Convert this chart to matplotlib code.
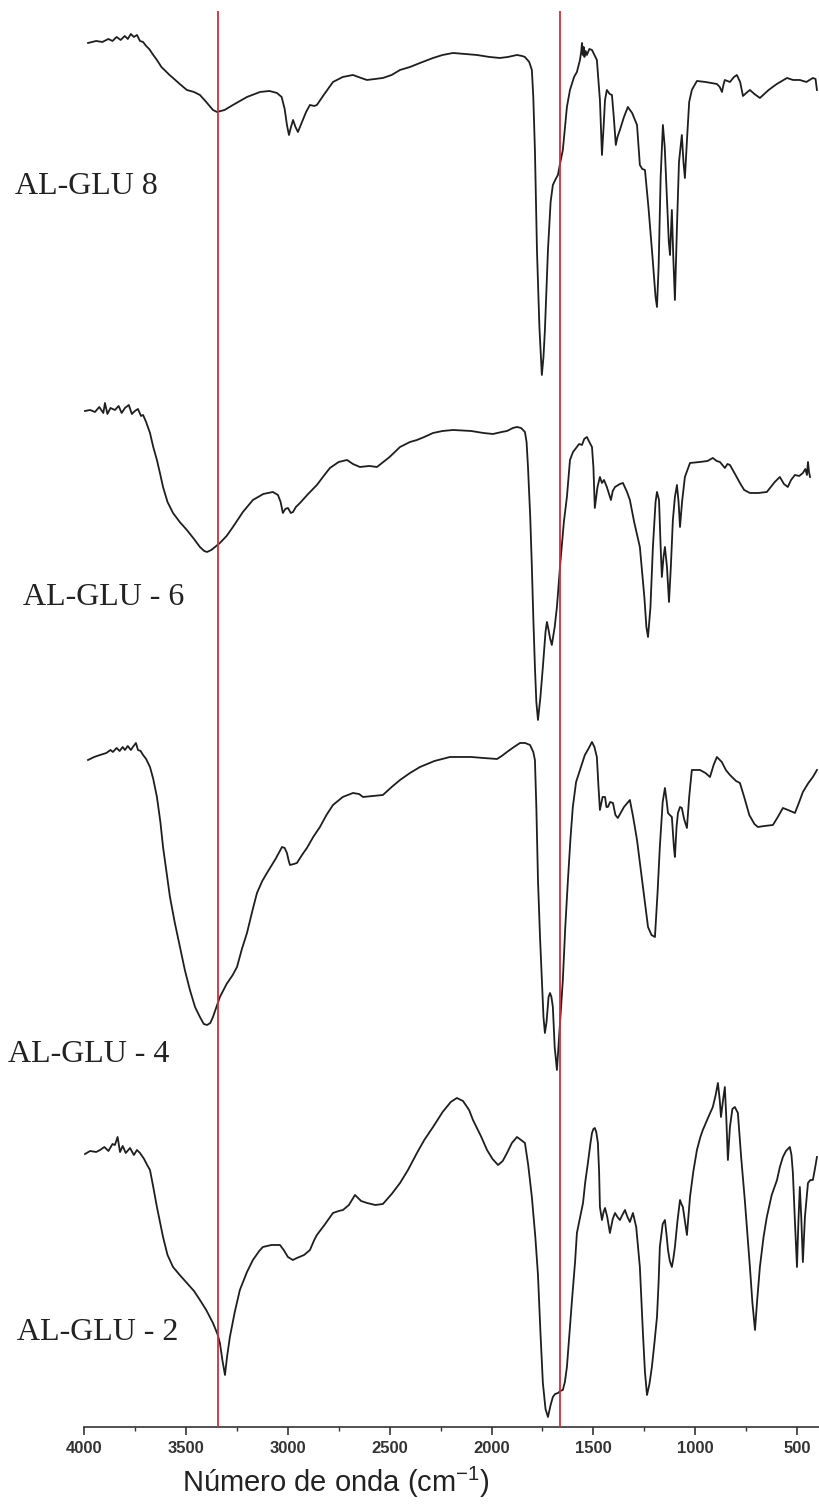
import numpy as np
import matplotlib
matplotlib.use("Agg")
import matplotlib.pyplot as plt
from matplotlib.ticker import MultipleLocator

plt.rcParams['font.family'] = ['Liberation Sans', 'DejaVu Sans']
plt.rcParams['mathtext.default'] = 'regular'

# FTIR spectra as (wavenumber cm-1, stacked transmittance a.u.)
glu8 = [(3980, 1384), (3940, 1386), (3910, 1385), (3880, 1388), (3860, 1386), (3840, 1390),
        (3820, 1387), (3800, 1391), (3785, 1388), (3770, 1393), (3755, 1390), (3740, 1392),
        (3725, 1386), (3710, 1385), (3695, 1381), (3680, 1378), (3660, 1372), (3642, 1367),
        (3620, 1360), (3600, 1356), (3580, 1352), (3563, 1349), (3530, 1343), (3495, 1337),
        (3460, 1335), (3431, 1332), (3400, 1325), (3367, 1317), (3347, 1315), (3310, 1317),
        (3269, 1322), (3200, 1330), (3136, 1335), (3090, 1336), (3053, 1334), (3030, 1330),
        (3015, 1318), (3004, 1302), (2994, 1292), (2984, 1300), (2974, 1307), (2962, 1300),
        (2950, 1295), (2940, 1300), (2930, 1305), (2910, 1315), (2891, 1322), (2870, 1321),
        (2857, 1322), (2820, 1333), (2778, 1345), (2730, 1350), (2680, 1352), (2640, 1349),
        (2611, 1347), (2570, 1348), (2533, 1349), (2490, 1352), (2449, 1357), (2400, 1360),
        (2351, 1364), (2287, 1369), (2240, 1372), (2189, 1374), (2130, 1373), (2072, 1372),
        (2010, 1370), (1959, 1369), (1920, 1370), (1875, 1372), (1850, 1371), (1836, 1370),
        (1815, 1365), (1802, 1357), (1795, 1330), (1787, 1277), (1777, 1177), (1765, 1100),
        (1753, 1052), (1745, 1070), (1738, 1097), (1723, 1177), (1710, 1225), (1699, 1242),
        (1685, 1248), (1674, 1252), (1665, 1262), (1650, 1277), (1630, 1320), (1615, 1337),
        (1595, 1350), (1581, 1355), (1566, 1367), (1560, 1375), (1556, 1384), (1552, 1372),
        (1548, 1380), (1544, 1370), (1538, 1376), (1532, 1372), (1520, 1378), (1507, 1377),
        (1495, 1372), (1483, 1367), (1475, 1345), (1468, 1327), (1458, 1272), (1450, 1300),
        (1443, 1327), (1434, 1337), (1420, 1333), (1409, 1332), (1400, 1310), (1390, 1282),
        (1382, 1290), (1370, 1297), (1350, 1310), (1331, 1320), (1310, 1314), (1286, 1302),
        (1272, 1262), (1260, 1258), (1247, 1257), (1230, 1220), (1210, 1170), (1195, 1130),
        (1188, 1120), (1180, 1160), (1170, 1250), (1159, 1302), (1150, 1280), (1139, 1227),
        (1130, 1185), (1124, 1172), (1115, 1217), (1108, 1170), (1100, 1127), (1090, 1200),
        (1080, 1265), (1066, 1292), (1058, 1265), (1051, 1249), (1040, 1290), (1030, 1325),
        (1017, 1337), (992, 1346), (950, 1345), (894, 1343), (880, 1340), (869, 1335),
        (862, 1342), (855, 1347), (830, 1345), (810, 1350), (796, 1352), (780, 1345),
        (766, 1331), (750, 1334), (732, 1337), (710, 1333), (683, 1329), (640, 1337),
        (600, 1343), (550, 1349), (520, 1347), (487, 1347), (455, 1345), (423, 1349),
        (410, 1348), (403, 1337)]

glu6 = [(3995, 1016), (3970, 1017), (3946, 1015), (3925, 1020), (3905, 1014), (3897, 1024),
        (3885, 1013), (3870, 1019), (3848, 1017), (3830, 1021), (3815, 1014), (3799, 1019),
        (3780, 1022), (3765, 1013), (3750, 1016), (3735, 1018), (3720, 1011), (3710, 1012),
        (3695, 1005), (3676, 994), (3660, 980), (3642, 967), (3625, 952), (3612, 940),
        (3590, 925), (3563, 914), (3530, 905), (3495, 897), (3460, 888), (3431, 880),
        (3410, 876), (3396, 875), (3375, 877), (3333, 884), (3300, 891), (3269, 900),
        (3220, 915), (3171, 927), (3120, 933), (3073, 935), (3048, 932), (3035, 925),
        (3024, 914), (3012, 918), (2999, 919), (2985, 914), (2974, 915), (2960, 920),
        (2940, 924), (2900, 933), (2857, 942), (2820, 952), (2793, 959), (2750, 965),
        (2709, 967), (2680, 963), (2646, 960), (2600, 961), (2562, 960), (2500, 970),
        (2449, 980), (2400, 985), (2366, 987), (2330, 990), (2287, 994), (2240, 996),
        (2189, 997), (2100, 996), (2040, 994), (1993, 993), (1950, 995), (1924, 996),
        (1895, 999), (1875, 1000), (1855, 999), (1836, 995), (1828, 985), (1821, 960),
        (1810, 910), (1802, 860), (1795, 810), (1787, 760), (1780, 725), (1772, 707),
        (1760, 730), (1748, 760), (1735, 795), (1728, 805), (1720, 797), (1713, 789),
        (1704, 782), (1690, 800), (1679, 820), (1664, 860), (1645, 905), (1630, 930),
        (1615, 967), (1600, 975), (1581, 980), (1570, 983), (1556, 982), (1545, 988),
        (1532, 990), (1520, 985), (1507, 980), (1500, 960), (1493, 919), (1480, 940),
        (1468, 950), (1458, 944), (1448, 947), (1434, 940), (1420, 931), (1414, 927),
        (1405, 936), (1394, 940), (1370, 943), (1355, 944), (1335, 935), (1321, 927),
        (1300, 905), (1272, 880), (1250, 830), (1240, 800), (1232, 790), (1220, 820),
        (1208, 880), (1195, 925), (1188, 935), (1178, 927), (1170, 880), (1164, 850),
        (1156, 870), (1149, 880), (1139, 860), (1129, 825), (1120, 860), (1110, 907),
        (1100, 930), (1090, 942), (1082, 925), (1075, 900), (1065, 925), (1051, 950),
        (1026, 964), (977, 965), (940, 966), (914, 969), (895, 966), (879, 965),
        (855, 959), (842, 963), (830, 962), (805, 953), (781, 944), (760, 937),
        (732, 934), (690, 934), (649, 935), (610, 945), (585, 950), (565, 943),
        (546, 940), (530, 947), (511, 952), (490, 951), (472, 954), (460, 958),
        (452, 952), (447, 965), (442, 955), (437, 950)]

glu4 = [(3980, 667), (3950, 670), (3921, 672), (3890, 674), (3870, 677), (3858, 675),
        (3840, 679), (3825, 676), (3810, 680), (3799, 677), (3785, 681), (3770, 677),
        (3760, 680), (3745, 684), (3735, 677), (3722, 676), (3710, 672), (3695, 668),
        (3676, 660), (3660, 648), (3642, 630), (3625, 605), (3612, 580), (3595, 555),
        (3578, 530), (3555, 505), (3529, 480), (3505, 457), (3480, 437), (3455, 420),
        (3431, 410), (3412, 403), (3396, 402), (3380, 404), (3367, 410), (3350, 420),
        (3333, 430), (3300, 443), (3270, 452), (3249, 460), (3225, 478), (3200, 494),
        (3175, 515), (3151, 534), (3125, 546), (3102, 554), (3060, 568), (3028, 580),
        (3015, 579), (3004, 574), (2995, 566), (2989, 562), (2970, 563), (2955, 564),
        (2930, 572), (2906, 579), (2875, 590), (2842, 600), (2810, 612), (2778, 622),
        (2730, 630), (2680, 634), (2650, 633), (2631, 630), (2580, 631), (2533, 632),
        (2490, 640), (2449, 647), (2400, 654), (2351, 660), (2280, 666), (2204, 670),
        (2100, 670), (2040, 669), (1973, 668), (1950, 671), (1924, 675), (1890, 680),
        (1860, 684), (1835, 684), (1811, 682), (1795, 675), (1787, 667), (1780, 620),
        (1772, 547), (1762, 490), (1753, 447), (1745, 410), (1738, 394), (1730, 405),
        (1720, 430), (1713, 434), (1706, 430), (1699, 420), (1690, 380), (1679, 357),
        (1665, 400), (1650, 447), (1638, 500), (1625, 547), (1612, 590), (1601, 620),
        (1585, 645), (1566, 657), (1550, 667), (1542, 672), (1525, 678), (1507, 685),
        (1495, 680), (1483, 670), (1475, 640), (1468, 617), (1455, 630), (1443, 630),
        (1436, 620), (1429, 620), (1418, 625), (1404, 624), (1392, 612), (1380, 609),
        (1350, 620), (1321, 627), (1305, 610), (1286, 587), (1260, 545), (1232, 500),
        (1215, 492), (1198, 490), (1185, 535), (1174, 580), (1160, 625), (1149, 639),
        (1140, 625), (1134, 614), (1125, 612), (1115, 610), (1105, 580), (1100, 570),
        (1092, 600), (1085, 614), (1075, 620), (1066, 619), (1055, 608), (1041, 599),
        (1030, 630), (1017, 657), (977, 657), (950, 654), (928, 650), (910, 662),
        (894, 670), (870, 665), (850, 657), (830, 652), (800, 646), (781, 644),
        (760, 630), (735, 612), (710, 603), (693, 600), (660, 601), (619, 602),
        (595, 610), (570, 619), (545, 617), (511, 614), (490, 625), (472, 635),
        (445, 644), (423, 650), (403, 657)]

glu2 = [(3995, 273), (3970, 276), (3940, 275), (3921, 277), (3900, 280), (3880, 276),
        (3860, 283), (3848, 282), (3835, 290), (3823, 275), (3810, 281), (3795, 274),
        (3774, 279), (3755, 272), (3740, 277), (3725, 274), (3705, 268), (3690, 262),
        (3676, 257), (3660, 240), (3642, 220), (3625, 203), (3612, 190), (3590, 172),
        (3563, 160), (3530, 152), (3495, 144), (3460, 136), (3431, 127), (3400, 117),
        (3367, 104), (3345, 93), (3333, 84), (3320, 66), (3308, 52), (3298, 70),
        (3284, 90), (3260, 115), (3235, 137), (3200, 155), (3171, 167), (3140, 176),
        (3122, 180), (3080, 182), (3038, 182), (3020, 177), (2999, 170), (2975, 167),
        (2955, 169), (2920, 172), (2891, 177), (2870, 187), (2857, 192), (2820, 202),
        (2778, 214), (2750, 216), (2729, 217), (2700, 222), (2670, 232), (2640, 226),
        (2611, 224), (2570, 222), (2533, 223), (2490, 233), (2449, 244), (2410, 257),
        (2366, 274), (2330, 287), (2287, 300), (2240, 315), (2200, 325), (2170, 329),
        (2140, 326), (2110, 317), (2091, 307), (2050, 290), (2022, 277), (1995, 268),
        (1968, 262), (1945, 266), (1924, 274), (1900, 284), (1875, 290), (1855, 287),
        (1836, 284), (1820, 262), (1802, 230), (1785, 190), (1772, 152), (1760, 95),
        (1748, 44), (1735, 18), (1723, 10), (1710, 22), (1699, 30), (1688, 33),
        (1674, 34), (1663, 36), (1650, 37), (1640, 45), (1630, 60), (1618, 92),
        (1605, 127), (1590, 165), (1581, 194), (1565, 210), (1551, 224), (1540, 245),
        (1527, 264), (1515, 283), (1507, 294), (1500, 298), (1493, 299), (1486, 295),
        (1478, 284), (1472, 255), (1468, 220), (1458, 207), (1450, 215), (1443, 219),
        (1432, 210), (1419, 194), (1405, 208), (1394, 214), (1382, 210), (1370, 207),
        (1358, 212), (1345, 217), (1333, 210), (1321, 205), (1306, 214), (1290, 200),
        (1272, 160), (1257, 94), (1247, 55), (1237, 32), (1225, 43), (1213, 60),
        (1200, 85), (1188, 110), (1180, 145), (1174, 180), (1160, 203), (1149, 207),
        (1140, 190), (1134, 177), (1125, 166), (1115, 160), (1108, 168), (1100, 180),
        (1088, 205), (1075, 227), (1068, 223), (1061, 220), (1050, 205), (1041, 192),
        (1032, 215), (1026, 230), (1010, 255), (992, 277), (975, 290), (963, 297),
        (940, 308), (914, 320), (900, 332), (889, 344), (880, 327), (874, 310),
        (865, 325), (855, 340), (848, 310), (840, 267), (830, 300), (818, 318),
        (806, 320), (791, 314), (775, 270), (757, 227), (745, 195), (732, 160),
        (720, 125), (707, 97), (697, 125), (683, 160), (665, 190), (649, 210),
        (625, 232), (599, 247), (585, 260), (570, 270), (555, 276), (536, 280),
        (528, 272), (521, 254), (512, 210), (501, 160), (494, 205), (487, 240),
        (480, 210), (472, 165), (462, 210), (447, 244), (435, 247), (423, 247),
        (413, 258), (403, 270)]

spectra = [glu8, glu6, glu4, glu2]
sample_names = ['AL-GLU 8', 'AL-GLU - 6', 'AL-GLU - 4', 'AL-GLU - 2']
name_pos = [(0.018, 0.876), (0.028, 0.603), (0.010, 0.299), (0.021, 0.114)]
marker_lines = [3343, 1664]

fig = plt.figure(figsize=(8.2, 15.04), dpi=100)
ax = fig.add_axes([0.1024, 0.0512, 0.8976, 0.9415])

for spec in spectra:
    wn, t = np.array(spec).T
    ax.plot(wn, t, color='#1e1e1e', lw=1.3)

for w in marker_lines:
    ax.axvline(w, color='#c8323c', lw=1.3, zorder=3)

ax.set_xlim(4000, 388)
ax.set_ylim(0, 1416)

for s in ['top', 'right', 'left']:
    ax.spines[s].set_visible(False)
ax.spines['bottom'].set_color('#333333')
ax.spines['bottom'].set_linewidth(1.2)
ax.set_yticks([])
ax.xaxis.set_major_locator(MultipleLocator(500))
ax.xaxis.set_minor_locator(MultipleLocator(250))
ax.tick_params(axis='x', which='major', direction='out', length=6, width=1.2,
               color='#333333', labelsize=12, labelcolor='#333333', pad=4)
ax.tick_params(axis='x', which='minor', direction='out', length=3, width=1.0,
               color='#333333')
for lab in ax.get_xticklabels():
    lab.set_fontweight('bold')

for name, (x, y) in zip(sample_names, name_pos):
    fig.text(x, y, name, family=['Liberation Serif', 'DejaVu Serif'], fontsize=23,
             color='#222222', ha='left', va='center')

fig.text(0.41, 0.0146, 'Número de onda (cm$^{-1}$)', fontsize=21, color='#222222',
         ha='center', va='center')

fig.savefig('out.png', dpi=100, facecolor='white')
